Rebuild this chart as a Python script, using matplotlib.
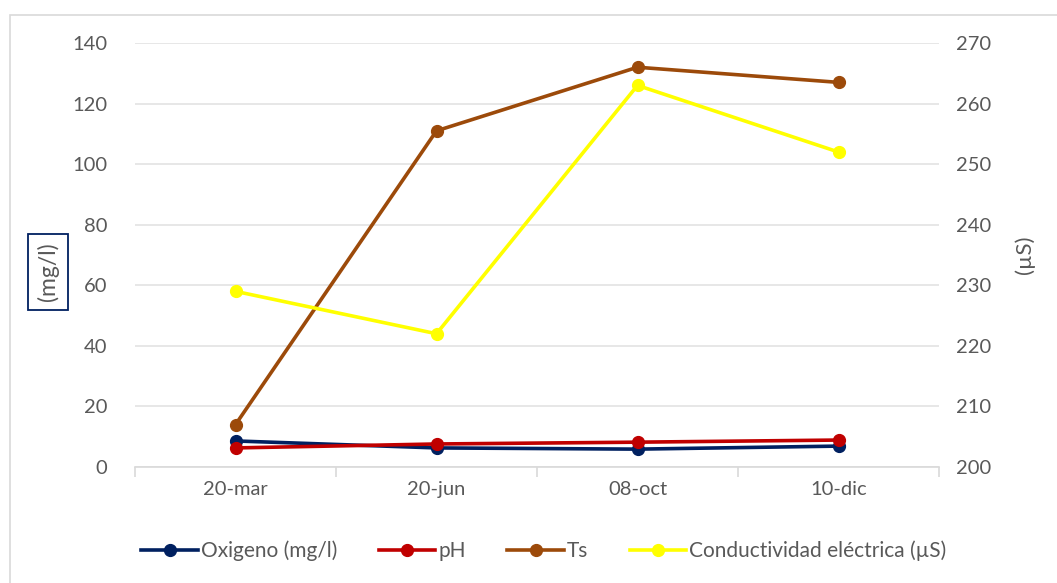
import matplotlib.pyplot as plt
from matplotlib.lines import Line2D
from matplotlib.patches import Rectangle

# Datos de muestreo
fechas = ['20-mar', '20-jun', '08-oct', '10-dic']
oxigeno = [8.6, 6.3, 5.9, 6.9]
ph = [6.3, 7.6, 8.2, 8.9]
ts = [14, 111, 132, 127]
conductividad = [229, 222, 263, 252]

plt.rcParams['font.family'] = ['Lato', 'DejaVu Sans']
gris = '#595959'
col_ox = '#002060'
col_ph = '#c00000'
col_ts = '#9c4a0a'
col_ce = '#ffff00'

fig = plt.figure(figsize=(10.57, 5.83), dpi=100)
ax = fig.add_axes([135 / 1057, 1 - 467 / 583, (939 - 135) / 1057, (467 - 43) / 583])
ax2 = ax.twinx()

x = range(len(fechas))
estilo = dict(lw=2.6, marker='o', ms=8.5, solid_capstyle='round')
ax.plot(x, oxigeno, color=col_ox, zorder=3, **estilo)
ax.plot(x, ph, color=col_ph, zorder=4, **estilo)
ax.plot(x, ts, color=col_ts, zorder=3, **estilo)
ax2.plot(x, conductividad, color=col_ce, zorder=3, **estilo)

ax.set_xlim(-0.5, 3.5)
ax.set_ylim(0, 140)
ax.set_yticks(range(0, 141, 20))
ax2.set_ylim(200, 270)
ax2.set_yticks(range(200, 271, 10))
ax.set_xticks(list(x))
ax.set_xticklabels(fechas)
ax.set_xticks([-0.5, 0.5, 1.5, 2.5, 3.5], minor=True)

ax.grid(axis='y', color='#e3e3e3', lw=1.2)
ax.set_axisbelow(True)
for a in (ax, ax2):
    for s in a.spines.values():
        s.set_visible(False)
ax.spines['bottom'].set_visible(True)
ax.spines['bottom'].set_color('#d9d9d9')
ax.spines['bottom'].set_linewidth(1.2)

ax.tick_params(axis='x', which='major', length=0, pad=10, labelsize=14.5, labelcolor=gris)
ax.tick_params(axis='x', which='minor', length=7, width=1.2, color='#d9d9d9')
ax.tick_params(axis='y', length=0, pad=20, labelsize=14.5, labelcolor=gris)
ax2.tick_params(axis='y', length=0, pad=12, labelsize=14.5, labelcolor=gris)

fig.text(48 / 1057, 1 - 272 / 583, '(mg/l)', rotation=90, ha='center', va='center',
         fontsize=16.5, color=gris,
         bbox=dict(boxstyle='square,pad=0.4', fc='white', ec=col_ox, lw=1.3))
fig.text(1025 / 1057, 1 - 255 / 583, '(µS)', rotation=90, ha='center', va='center',
         fontsize=16, color=gris)

handles = [Line2D([], [], color=c, lw=2.6, marker='o', ms=8.5)
           for c in (col_ox, col_ph, col_ts, col_ce)]
labels = ['Oxigeno (mg/l)', 'pH', 'Ts', 'Conductividad eléctrica (µS)']
fig.legend(handles, labels, loc='center', bbox_to_anchor=(544 / 1057, 1 - 551 / 583),
           ncol=4, frameon=False, fontsize=15, labelcolor=gris,
           handlelength=2.7, handletextpad=0.15, columnspacing=2.0)

fig.patches.append(Rectangle((10 / 1057, -0.05), 1.1, 1 - 15 / 583 + 0.05,
                             transform=fig.transFigure, fill=False,
                             ec='#d9d9d9', lw=1.2))

fig.savefig('out.png', dpi=100)
